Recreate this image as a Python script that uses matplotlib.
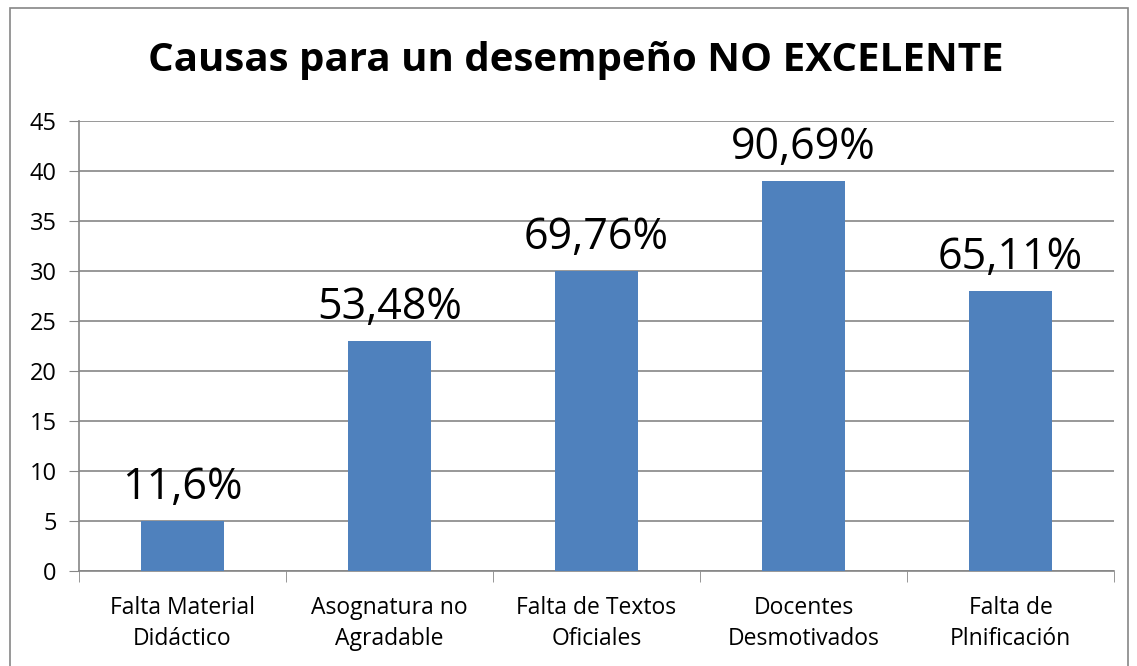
import matplotlib
matplotlib.use("Agg")
import matplotlib.pyplot as plt
from matplotlib.patches import Rectangle
import numpy as np

categories = ["Falta Material\nDidáctico", "Asognatura no\nAgradable", "Falta de Textos\nOficiales",
              "Docentes\nDesmotivados", "Falta de\nPlnificación"]
values = [5, 23, 30, 39, 28]
labels = ["11,6%", "53,48%", "69,76%", "90,69%", "65,11%"]

W, H = 1137, 666
plt.rcParams['font.family'] = ['Open Sans', 'DejaVu Sans']

fig = plt.figure(figsize=(W / 100, H / 100), dpi=100)
ax = fig.add_axes([79 / W, 1 - 571 / H, (1114 - 79) / W, (571 - 121) / H])

x = np.arange(len(values))
ax.bar(x, values, width=0.4, color='#4F81BD', zorder=3)
for xi, v, lab in zip(x, values, labels):
    ax.annotate(lab, (xi, v), xytext=(0, 8), textcoords='offset points',
                ha='center', va='bottom', fontsize=31, color='black')

ax.set_xlim(-0.5, len(values) - 0.5)
ax.set_ylim(0, 45)
ax.set_yticks(np.arange(0, 46, 5))
ax.yaxis.grid(True, color='#868686', linewidth=1.2, zorder=0)
ax.tick_params(axis='y', length=7, color='#868686', labelsize=17, pad=9)

# categories labelled at centres, tick marks at the boundaries
ax.set_xticks(x)
ax.set_xticklabels(categories, fontsize=16.5, linespacing=1.4)
ax.tick_params(axis='x', length=0, pad=18)
ax.set_xticks(np.arange(-0.5, len(values)), minor=True)
ax.tick_params(axis='x', which='minor', length=8, color='#868686')

for side in ['top', 'right']:
    ax.spines[side].set_visible(False)
for side in ['left', 'bottom']:
    ax.spines[side].set_color('#868686')
    ax.spines[side].set_linewidth(1.2)

fig.text(576 / W, 1 - 60 / H, "Causas para un desempeño NO EXCELENTE",
         ha='center', va='center', fontsize=29, fontweight='bold')

# outer chart border
fig.patches.append(Rectangle((10 / W, -0.05), (1128 - 10) / W, 1.05 - 8 / H,
                             transform=fig.transFigure, fill=False,
                             edgecolor='#868686', linewidth=1.2))

fig.savefig("out.png", dpi=100)
